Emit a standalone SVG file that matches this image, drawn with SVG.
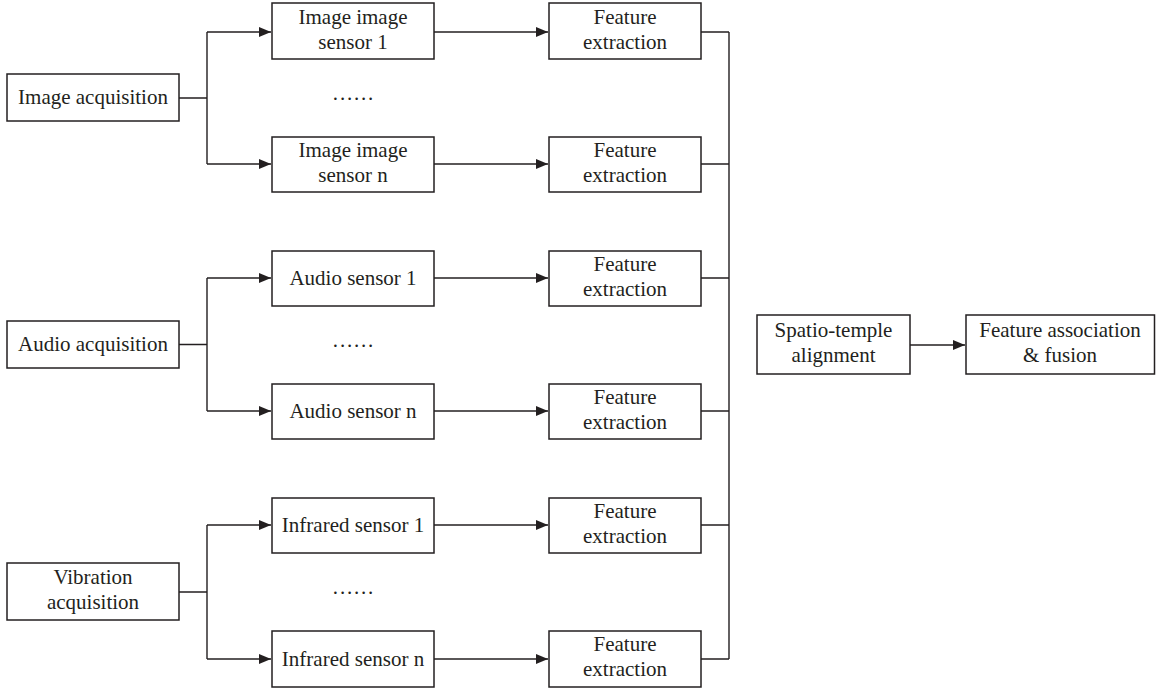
<svg xmlns="http://www.w3.org/2000/svg" width="1156" height="691" viewBox="0 0 1156 691">
<style>
.box{fill:#fff;stroke:#231f20;stroke-width:1.5}
.t{font-family:"Liberation Serif","Times New Roman",serif;font-size:21px;fill:#231f20;text-anchor:middle}
.ln{fill:none;stroke:#231f20;stroke-width:1.4}
.dots{font-family:"Liberation Serif",serif;font-size:21px;fill:#231f20;text-anchor:middle;letter-spacing:1.8px}
</style>
<defs>
<marker id="ah" markerWidth="12" markerHeight="10" refX="12" refY="5" orient="auto" markerUnits="userSpaceOnUse">
<path d="M0,0 L12,5 L0,10 Z" fill="#231f20"/>
</marker>
</defs>
<rect width="1156" height="691" fill="#fff"/>
<g id="connectors">
<path class="ln" d="M179,98 H207 M207,32 V164 M207,32 H271" marker-end="url(#ah)"/>
<path class="ln" d="M207,164 H271" marker-end="url(#ah)"/>
<path class="ln" d="M179,344.5 H207 M207,278 V411"/>
<path class="ln" d="M207,278 H271" marker-end="url(#ah)"/>
<path class="ln" d="M207,411 H271" marker-end="url(#ah)"/>
<path class="ln" d="M179,592 H207 M207,525 V659"/>
<path class="ln" d="M207,525 H271" marker-end="url(#ah)"/>
<path class="ln" d="M207,659 H271" marker-end="url(#ah)"/>
<path class="ln" d="M434,32 H548" marker-end="url(#ah)"/>
<path class="ln" d="M434,164 H548" marker-end="url(#ah)"/>
<path class="ln" d="M434,278 H548" marker-end="url(#ah)"/>
<path class="ln" d="M434,411 H548" marker-end="url(#ah)"/>
<path class="ln" d="M434,525 H548" marker-end="url(#ah)"/>
<path class="ln" d="M434,659 H548" marker-end="url(#ah)"/>
<path class="ln" d="M701,32 H729 M701,164 H729 M701,278 H729 M701,411 H729 M701,525 H729 M701,659 H729 M729,32 V659"/>
<path class="ln" d="M910,345 H965" marker-end="url(#ah)"/>
</g>
<g id="image-acq"><rect class="box" x="7" y="74" width="172" height="47"/><text class="t" x="93" y="104">Image acquisition</text></g>
<g id="audio-acq"><rect class="box" x="7" y="321" width="172" height="47"/><text class="t" x="93" y="351">Audio acquisition</text></g>
<g id="vib-acq"><rect class="box" x="7" y="563" width="172" height="57"/><text class="t" x="93" y="584">Vibration</text><text class="t" x="93" y="609">acquisition</text></g>
<g id="img-s1"><rect class="box" x="272" y="3" width="162" height="56"/><text class="t" x="353" y="24">Image image</text><text class="t" x="353" y="49">sensor 1</text></g>
<g id="img-sn"><rect class="box" x="272" y="137" width="162" height="55"/><text class="t" x="353" y="157">Image image</text><text class="t" x="353" y="182">sensor n</text></g>
<g id="aud-s1"><rect class="box" x="272" y="251" width="162" height="55"/><text class="t" x="353" y="285">Audio sensor 1</text></g>
<g id="aud-sn"><rect class="box" x="272" y="384" width="162" height="55"/><text class="t" x="353" y="418">Audio sensor n</text></g>
<g id="ir-s1"><rect class="box" x="272" y="498" width="162" height="55"/><text class="t" x="353" y="532">Infrared sensor 1</text></g>
<g id="ir-sn"><rect class="box" x="272" y="631" width="162" height="56"/><text class="t" x="353" y="666">Infrared sensor n</text></g>
<g id="dots"><text class="dots" x="354" y="100">......</text><text class="dots" x="354" y="347">......</text><text class="dots" x="354" y="594">......</text></g>
<g id="fe1"><rect class="box" x="549" y="3" width="152" height="56"/><text class="t" x="625" y="24">Feature</text><text class="t" x="625" y="49">extraction</text></g>
<g id="fe2"><rect class="box" x="549" y="137" width="152" height="55"/><text class="t" x="625" y="157">Feature</text><text class="t" x="625" y="182">extraction</text></g>
<g id="fe3"><rect class="box" x="549" y="251" width="152" height="55"/><text class="t" x="625" y="271">Feature</text><text class="t" x="625" y="296">extraction</text></g>
<g id="fe4"><rect class="box" x="549" y="384" width="152" height="55"/><text class="t" x="625" y="404">Feature</text><text class="t" x="625" y="429">extraction</text></g>
<g id="fe5"><rect class="box" x="549" y="498" width="152" height="55"/><text class="t" x="625" y="518">Feature</text><text class="t" x="625" y="543">extraction</text></g>
<g id="fe6"><rect class="box" x="549" y="631" width="152" height="56"/><text class="t" x="625" y="651">Feature</text><text class="t" x="625" y="676">extraction</text></g>
<g id="spatio"><rect class="box" x="757" y="315" width="153" height="59"/><text class="t" x="833.5" y="337">Spatio-temple</text><text class="t" x="833.5" y="362">alignment</text></g>
<g id="fusion"><rect class="box" x="966" y="315" width="188.5" height="59"/><text class="t" x="1060" y="337">Feature association</text><text class="t" x="1060" y="362">&amp; fusion</text></g>
</svg>
